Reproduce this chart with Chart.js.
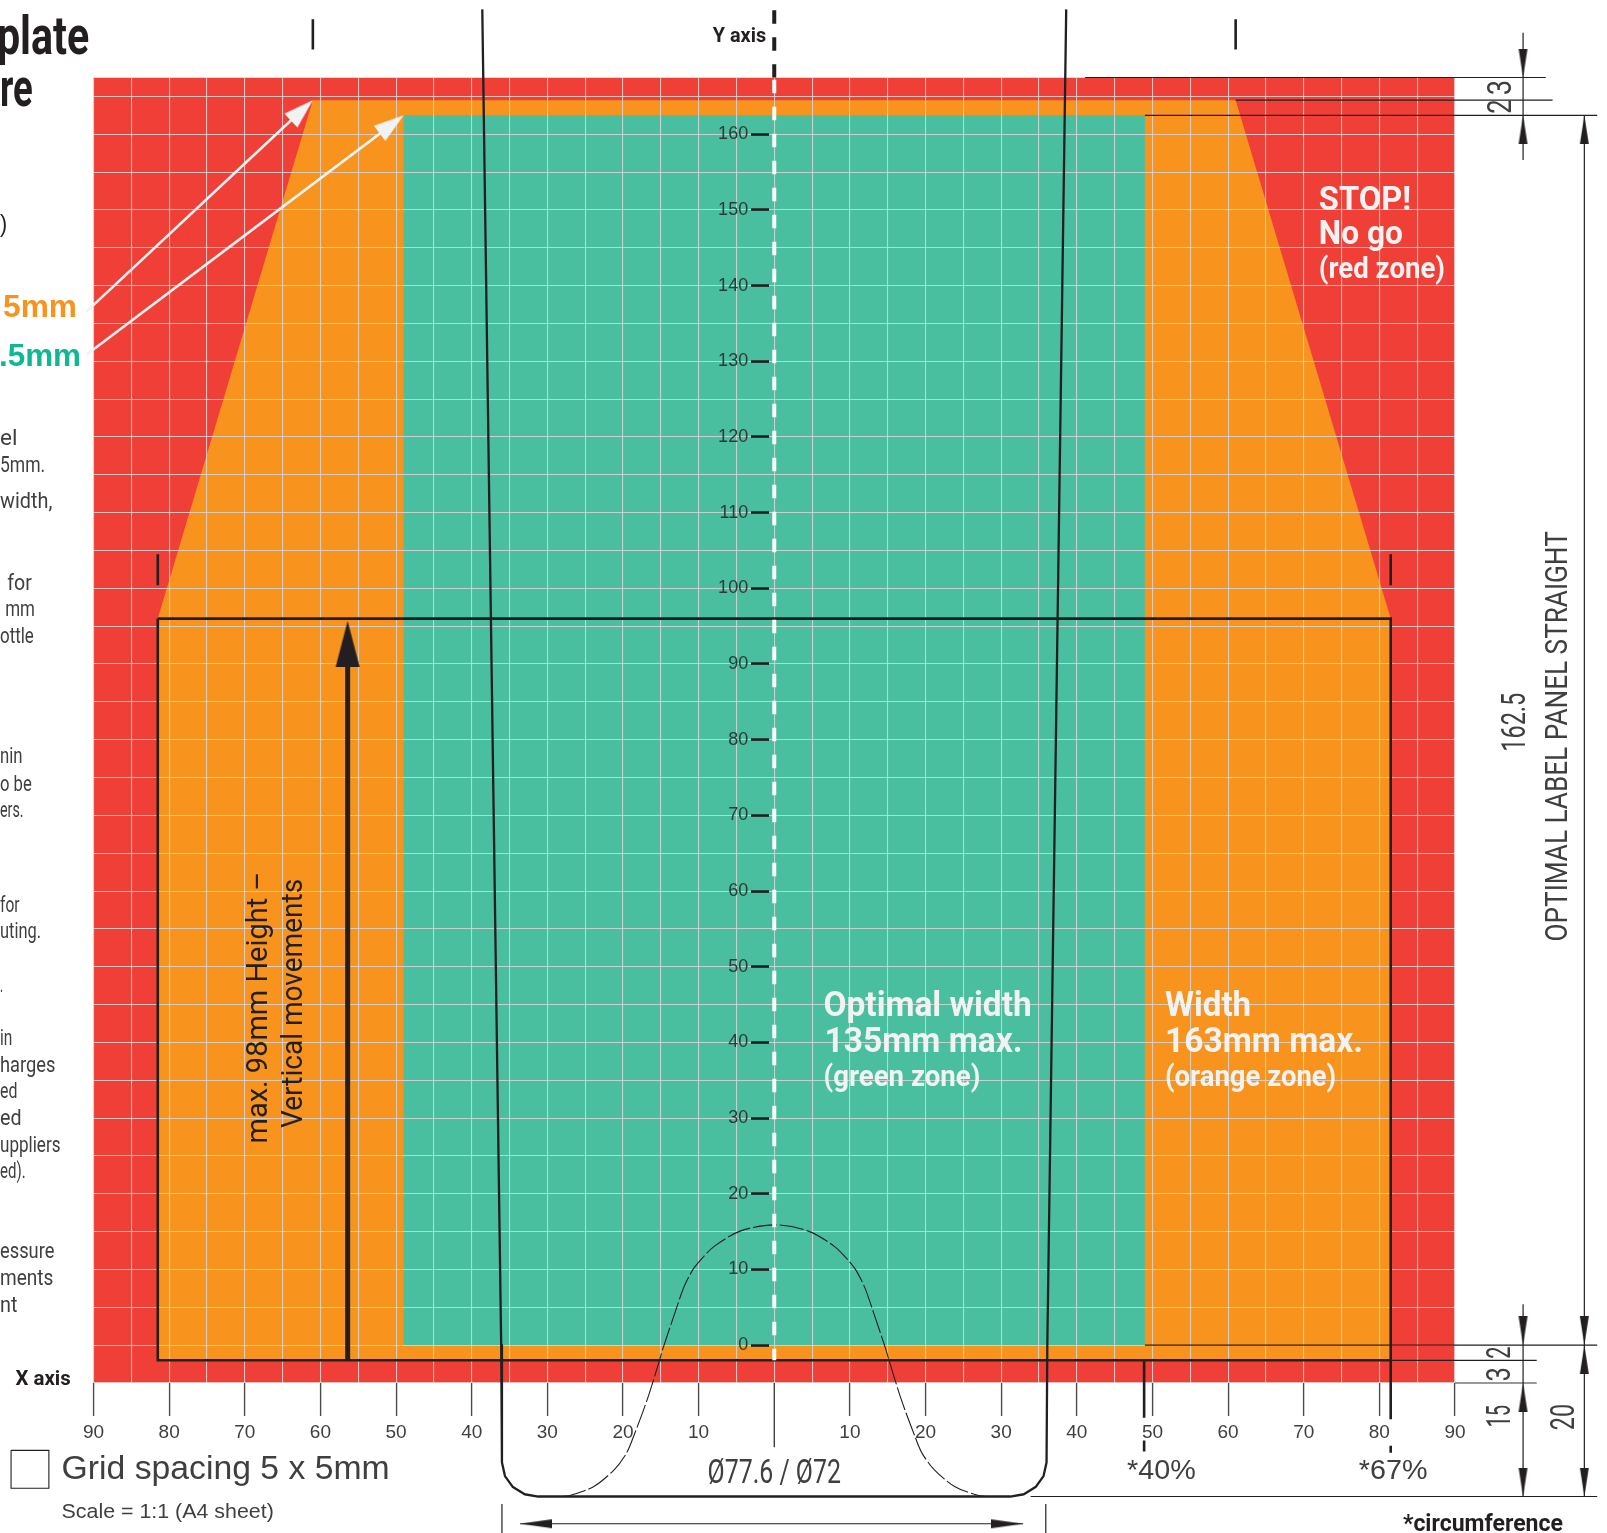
<!DOCTYPE html>
<html><head><meta charset="utf-8">
<style>html,body{margin:0;padding:0;background:#fff;overflow:hidden}canvas{display:block}</style>
<script src="https://cdn.jsdelivr.net/npm/chart.js@4"></script>
</head><body><canvas id="c" width="1607" height="1533"></canvas>
<script>
// ---------- values (millimetres) ----------
const xTickValues=[-90,-85,-80,-75,-70,-65,-60,-55,-50,-45,-40,-35,-30,-25,-20,-15,-10,-5,0,5,10,15,20,25,30,35,40,45,50,55,60,65,70,75,80,85,90];
const yTickValues=[-5,0,5,10,15,20,25,30,35,40,45,50,55,60,65,70,75,80,85,90,95,100,105,110,115,120,125,130,135,140,145,150,155,160,165];

const redZoneX=[-90,90,90,-90];
const redZoneY=[167.5,167.5,-5,-5];
const orangeZoneX=[-81.5,-61,61,81.5,81.5,-81.5];
const orangeZoneY=[96,164.5,164.5,96,-2,-2];
const greenZoneX=[-49,49,49,-49];
const greenZoneY=[162.5,162.5,0,0];
const boxX=[-81.5,81.5,81.5,-81.5,-81.5];
const boxY=[96,96,-2,-2,96];

const bottleX=[-38.6,-36.1,-36,-35.6,-34.6,-33,-31.2,31.2,33,34.6,35.6,36,36.1,38.6];
const bottleY=[176.5,0,-15.5,-17.3,-18.7,-19.7,-20,-20,-19.7,-18.7,-17.3,-15.5,0,176.5];
const shoulderX=[-28,-27.1,-23.9,-21.2,-19.55,-18.5,-16.8,-15.2,-14.7,-13.07,-12,-10.9,-10.1,-7.94,-4.43,0,4.43,7.94,10.1,10.9,12,13.07,14.7,15.2,16.8,18.5,19.55,21.2,23.9,27.1,28];
const shoulderY=[-20,-19.9,-18.7,-16.5,-14.3,-11.8,-7.2,-2.1,-0.4,4.46,7.54,9.75,10.85,13.05,15.1,15.9,15.1,13.05,10.85,9.75,7.54,4.46,-0.4,-2.1,-7.2,-11.8,-14.3,-16.5,-18.7,-19.9,-20];

const axisDashBlackY=[176.4,167.5];
const axisDashWhiteY=[167.2,-2];
const thickStemX=[-56.4,-56.4];
const thickStemY=[-2,91];
const squareX=[-100.9,-95.9,-95.9,-100.9,-100.9];
const squareY=[-13.9,-13.9,-18.9,-18.9,-13.9];
const whiteArrow1X=[-90.9,-62];
const whiteArrow1Y=[136.6,163.6];
const whiteArrow2X=[-90.9,-50];
const whiteArrow2Y=[130.9,161.7];

// x1,y1,x2,y2 pairs
const thinSegments=[[41.1,167.5,102,167.5],[61,164.5,102.9,164.5],[49,162.5,108.8,162.5],[49,0,108.8,0],[81.5,-2,100.8,-2],[33.9,-20,108.8,-20],[99,173.4,99,156.6],[107.1,162.5,107.1,-20],[99,5.4,99,-20],[-36,-21,-36,-25],[35.9,-21,35.9,-25],[-33.6,-23.6,32.9,-23.6],[0,-5,0,-13.5]];
const greySegments=[[90,-5,100.8,-5]];
const markerSegments=[[-61,175.2,-61,171.2],[61,175.2,61,171.2],[-81.5,104.5,-81.5,100.4],[81.5,104.5,81.5,100.4],[48.9,-2,48.9,-9.6],[48.9,-12.6,48.9,-14.05],[81.5,-2,81.5,-9.8],[81.5,-13.3,81.5,-14.2]];

const dimHeadX=[99,99,99,99,99,107.1,107.1,107.1,107.1];
const dimHeadY=[167.5,162.5,0,-5,-20,162.5,0,0,-20];
const dimHeadAngle=[90,-90,90,-90,90,-90,90,-90,90];
const wideHeadX=[-33.6,32.9];
const wideHeadY=[-23.6,-23.6];
const wideHeadAngle=[180,0];
const bigHeadX=[-56.4];
const bigHeadY=[95.7];
const bigHeadAngle=[-90];
const whiteHeadX=[-61,-49];
const whiteHeadY=[164.5,162.5];
const whiteHeadAngle=[-42.9,-36.9];

// ---------- texts ----------
const INK='#231f20', GREY='#3f3f41', PAPER='#f1f2f2';
const NARROW='Roboto, "Liberation Sans", sans-serif', SANS='"Liberation Sans", sans-serif';
const leftFragments=[["el",0,17,434],["5mm.",0,44,460],["width,",0,51,495],["for",7,24,575],["mm",5,29,601],["ottle",0,33,627],["nin",0,22,744],["o be",0,31,771],["ers.",0,23,797],["for",0,19,889],["uting.",0,40,915],[".",0,3,967],["in",0,12,1019],["harges",0,54,1045],["ed",0,17,1071],["ed",0,21,1097],["uppliers",0,59,1123],["ed).",0,25,1149],["essure",0,53,1227],["ments",0,52,1253],["nt",0,17,1279]];
const textItems=[
 // str,x,baseline,width,size,weight,family,color
 ["plate",-3,53,90,52,'bold',NARROW,INK],["re",0,103,32,52,'bold',NARROW,INK],[")",0,226,7,24,'normal',SANS,INK],
 ["5mm",3,309,72,31,'bold',SANS,'#f7941d'],[".5mm",-1,357,80,31,'bold',SANS,'#10b795'],
 ["Y axis",695,41,52,20,'bold',NARROW,INK],["X axis",15,1351,54,20,'bold',NARROW,INK],
 ["STOP!",1286,205,90,33,'bold',NARROW,PAPER],["No go",1286,238,82,33,'bold',NARROW,PAPER],["(red zone)",1286,271,123,28,'bold',NARROW,PAPER],
 ["Optimal width",803,991,203,34,'bold',NARROW,PAPER],["135mm max.",804,1026,193,34,'bold',NARROW,PAPER],["(green zone)",803,1059,153,28,'bold',NARROW,PAPER],
 ["Width",1136,991,84,34,'bold',NARROW,PAPER],["163mm max.",1136,1026,193,34,'bold',NARROW,PAPER],["(orange zone)",1136,1059,167,28,'bold',NARROW,PAPER],
 ["Grid spacing 5 x 5mm",60,1442,320,33,'normal',SANS,GREY],["Scale = 1:1 (A4 sheet)",60,1480,207,20,'normal',SANS,GREY],
 ["Ø77.6 / Ø72",690,1446,130,33,'normal',NARROW,GREY],["*40%",1099,1442,67,27,'normal',SANS,GREY],["*67%",1325,1442,67,27,'normal',SANS,GREY],
 ["*circumference",1368,1493,156,24,'bold',NARROW,INK]
];
const rotatedItems=[
 ["max. 98mm Height –",260,1115,265,29,INK],["Vertical movements",294,1100,243,29,INK],
 ["OPTIMAL LABEL PANEL STRAIGHT",1528,918,400,31,GREY],["162.5",1487,733,57.5,33,GREY],
 ["2",1473,111,14,33,GREY],["3",1473,93,15,33,GREY],["3",1472,1347,14,33,GREY],["2",1472,1325,12,33,GREY],
 ["15",1472,1392,22,33,GREY],["20",1535,1394.6,25.5,33,GREY]
];

// ---------- helpers ----------
const K=1607/1567;
const pts=(xs,ys)=>xs.map((x,i)=>({x,y:ys[i]}));
const line=(xs,ys,color,width,extra)=>Object.assign({data:pts(xs,ys),showLine:true,pointRadius:0,borderColor:color,borderWidth:width,backgroundColor:'transparent',fill:false,tension:0,clip:false,order:10,borderCapStyle:'butt'},extra||{});
const seg=(s,color,width)=>line([s[0],s[2]],[s[1],s[3]],color,width);
// triangle points toward +x with its tip in the image centre
function headImageTip(len,wid,color){
  const c=document.createElement('canvas');c.width=len*2;c.height=wid+2;
  const g=c.getContext('2d');g.fillStyle=color;g.beginPath();g.moveTo(len,(wid+2)/2);g.lineTo(0,1);g.lineTo(0,wid+1);g.closePath();g.fill();
  return c;
}
const heads=(xs,ys,angles,img)=>({data:pts(xs,ys),showLine:false,pointRadius:500,pointHoverRadius:500,pointStyle:img,pointRotation:angles,clip:false,order:5,borderWidth:0});

const datasets=[
 heads(whiteHeadX,whiteHeadY,whiteHeadAngle,headImageTip(30,19,PAPER)),
 heads(dimHeadX,dimHeadY,dimHeadAngle,headImageTip(29,9,INK)),
 heads(wideHeadX,wideHeadY,wideHeadAngle,headImageTip(32,9,INK)),
 heads(bigHeadX,bigHeadY,bigHeadAngle,headImageTip(46,24,INK)),
 line(axisDashWhiteY.map(()=>0),axisDashWhiteY,'#ffffff',4,{borderDash:[13.5,13.5]}),
 line(axisDashBlackY.map(()=>0),axisDashBlackY,INK,4,{borderDash:[13.5,13.5]}),
 line(thickStemX,thickStemY,INK,5),
 line(whiteArrow1X,whiteArrow1Y,PAPER,2.6),
 line(whiteArrow2X,whiteArrow2Y,PAPER,2.6),
 line(boxX,boxY,INK,2.6),
 line(bottleX,bottleY,INK,2.3,{borderJoinStyle:'round'}),
 line(shoulderX,shoulderY,INK,1.1,{borderDash:[24,3],tension:0.3}),
 line(squareX,squareY,INK,1.1),
 ...thinSegments.map(s=>seg(s,INK,1.2)),
 ...greySegments.map(s=>seg(s,'#777777',1.5)),
 ...markerSegments.map(s=>seg(s,INK,2.6)),
 line(greenZoneX,greenZoneY,'transparent',0,{backgroundColor:'#49bf9f',fill:'shape',order:98}),
 line(orangeZoneX,orangeZoneY,'transparent',0,{backgroundColor:'#f8931d',fill:'shape',order:99}),
 line(redZoneX,redZoneY,'transparent',0,{backgroundColor:'#f03f37',fill:'shape',order:100})
];
const greenIndex=datasets.findIndex(d=>d.order===98);

const overlay={
  id:'overlay',
  afterDatasetDraw(chart,args){
    if(args.index===greenIndex){ chart.scales.x.drawGrid(chart.chartArea); chart.scales.y.drawGrid(chart.chartArea); }
  },
  afterDraw(chart){
    const g=chart.ctx;
    const put=(str,x,y,w,size,weight,fam,color,rot)=>{
      g.save();g.font=weight+' '+(size*K)+'px '+fam;g.fillStyle=color;g.textAlign='left';g.textBaseline='alphabetic';
      g.translate(x*K,y*K);if(rot)g.rotate(-Math.PI/2);
      const m=g.measureText(str).width;g.scale(w*K/m,1);g.fillText(str,0,0);g.restore();
    };
    leftFragments.forEach(f=>put(f[0],f[1],f[3],f[2],21,'normal',NARROW,GREY,false));
    textItems.forEach(t=>put(t[0],t[1],t[2],t[3],t[4],t[5],t[6],t[7],false));
    rotatedItems.forEach(t=>put(t[0],t[1],t[2],t[3],t[4],'normal',NARROW,t[5],true));
  }
};

const isMajor=v=>v%10===0;
const setYTicks=s=>{s.ticks=yTickValues.map(value=>({value}));};
new Chart(document.getElementById('c'),{
 type:'scatter',
 data:{datasets},
 plugins:[overlay],
 options:{
  responsive:false,devicePixelRatio:1,animation:false,events:[],
  layout:{autoPadding:false,padding:{left:93.5,right:152,top:77.5,bottom:70}},
  plugins:{legend:{display:false},tooltip:{enabled:false},title:{display:false}},
  scales:{
   x:{type:'linear',position:'bottom',
    afterDataLimits:s=>{s.min=-90;s.max=90;},
    afterBuildTicks:s=>{s.min=-90;s.max=90;s.ticks=xTickValues.map(value=>({value}));},
    afterFit:s=>{s.height=80;},
    border:{display:false},
    grid:{color:'rgba(215,215,215,0.85)',lineWidth:1.1,tickLength:33,tickWidth:1.2,
      tickColor:c=>isMajor(c.tick.value)&&c.tick.value!==0?'#4a4a4a':'rgba(0,0,0,0)'},
    ticks:{autoSkip:false,maxRotation:0,minRotation:0,padding:5,color:GREY,font:{family:'Liberation Sans',size:19},
      callback:v=>(isMajor(v)&&v!==0)?String(Math.abs(v)):''}
   },
   y:{type:'linear',axis:'y',min:-5,max:167.5,position:{x:-0.65},
    afterBuildTicks:setYTicks,
    afterFit:s=>{s.width=0;},
    border:{display:false},
    grid:{color:'rgba(215,215,215,0.85)',lineWidth:1.1,tickLength:18,tickWidth:2.6,
      tickColor:c=>(isMajor(c.tick.value)&&c.tick.value>=0)?INK:'rgba(0,0,0,0)'},
    ticks:{display:false,autoSkip:false}
   },
   yLabels:{type:'linear',axis:'y',min:-5,max:167.5,position:{x:-3.45},
    afterBuildTicks:setYTicks,
    afterFit:s=>{s.width=0;},
    border:{display:false},
    grid:{display:false},
    ticks:{autoSkip:false,z:1,color:'#2f3a38',font:{family:'Liberation Sans',size:18},
      callback:v=>(isMajor(v)&&v>=0)?String(v):''}
   }
  }
 }
});
</script></body></html>
